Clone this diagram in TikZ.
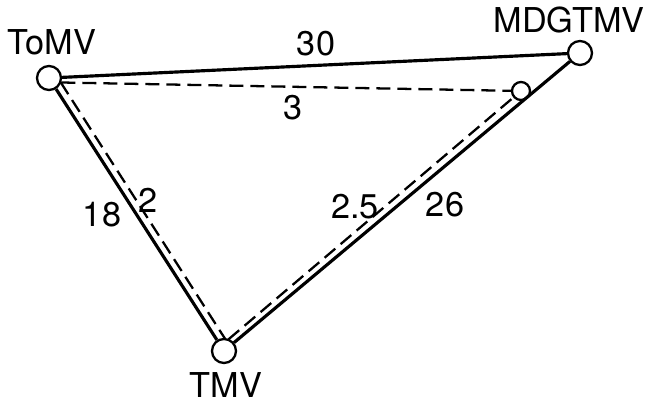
\documentclass[tikz,border=0pt]{standalone}
\usepackage{fontspec}
\setmainfont{TeX Gyre Heros}
\usetikzlibrary{calc}

\begin{document}
\begin{tikzpicture}[
  virus/.style={circle, draw, line width=1.3pt, minimum size=0.48cm, inner sep=0pt},
  hostvirus/.style={circle, draw, line width=1.3pt, minimum size=0.36cm, inner sep=0pt},
  solidln/.style={line width=1.8pt},
  dashln/.style={line width=1.3pt, dash pattern=on 0.28cm off 0.14cm},
  lbl/.style={font=\fontsize{19.5}{22}\selectfont, inner sep=0pt}]
\useasboundingbox (0,0) rectangle (12.9,8.1);
% viruses
\node[virus] (tomv) at (0.98,6.54) {};
\node[virus] (mdg) at (11.6,7.04) {};
\node[virus] (tmv) at (4.48,1.08) {};
\node[hostvirus] (small) at (10.42,6.28) {};
\node[lbl] (tomvlbl) at (1.04,7.26) {ToMV};
\node[lbl] (mdglbl) at (11.38,7.7) {MDGTMV};
\node[lbl] (tmvlbl) at (4.52,0.4) {TMV};
% solid distances
\draw[solidln] (tomv) -- (mdg);
\draw[solidln] (tomv) -- (tmv);
\draw[solidln] (tmv) -- (mdg);
% dashed distances
\draw[dashln] (tomv.-20) -- (small);
\draw[dashln, shorten <=0.2cm, shorten >=0.2cm] ($(tomv)!0.15cm!90:(tmv)$) -- ($(tmv)!0.15cm!-90:(tomv)$);
\draw[dashln, shorten <=0.22cm] ($(tmv)!0.12cm!90:(mdg)$) -- (small);
% values
\node[lbl] (d30) at (6.32,7.22) {30};
\node[lbl] (d3) at (5.86,5.94) {3};
\node[lbl] (d18) at (2.04,3.8) {18};
\node[lbl] (d2) at (2.96,4.1) {2};
\node[lbl] (d25) at (7.1,3.96) {2.5};
\node[lbl] (d26) at (8.9,4.0) {26};
\end{tikzpicture}
\end{document}
